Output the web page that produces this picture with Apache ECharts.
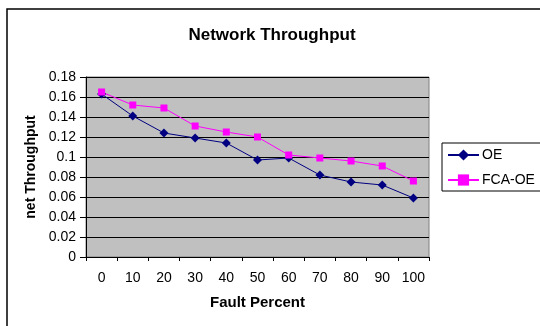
<!DOCTYPE html>
<html>
<head>
<meta charset="utf-8">
<script src="https://cdn.jsdelivr.net/npm/echarts@6/dist/echarts.min.js"></script>
<style>
  html, body { margin: 0; padding: 0; background: #fff; }
  #chart { width: 540px; height: 326px; }
</style>
</head>
<body>
<div id="chart"></div>
<script>
// Fault percentage categories along the x axis
const faultPercent = ['0', '10', '20', '30', '40', '50', '60', '70', '80', '90', '100'];
// Network throughput for each scheme
const oeThroughput = [0.163, 0.141, 0.124, 0.119, 0.114, 0.097, 0.099, 0.082, 0.075, 0.072, 0.059];
const fcaOeThroughput = [0.165, 0.152, 0.149, 0.131, 0.125, 0.120, 0.102, 0.099, 0.096, 0.091, 0.076];
// Y axis range
const yMin = 0, yMax = 0.18, yStep = 0.02;

const font = 'Liberation Sans, Arial, sans-serif';
const chart = echarts.init(document.getElementById('chart'), null, { renderer: 'canvas' });

chart.setOption({
  animation: false,
  backgroundColor: '#ffffff',
  title: {
    text: 'Network Throughput',
    left: 267,
    top: 22,
    textAlign: 'center',
    textStyle: { fontFamily: font, fontSize: 17, fontWeight: 'bold', color: '#000' }
  },
  graphic: [{
    type: 'rect',
    shape: { x: 7, y: 9, width: 700, height: 500 },
    style: { fill: 'none', stroke: '#000', lineWidth: 1.5 },
    silent: true
  }],
  legend: {
    orient: 'vertical',
    left: 442,
    top: 143,
    padding: [5, 6, 4, 5],
    itemGap: 11,
    itemWidth: 31,
    itemHeight: 14,
    borderColor: '#000',
    borderWidth: 1,
    textStyle: { fontFamily: font, fontSize: 14, color: '#000', padding: [0, 0, 0, -2] },
    data: ['OE', 'FCA-OE']
  },
  grid: {
    left: 86, top: 77, width: 343, height: 180,
    show: true,
    backgroundColor: '#C0C0C0',
    borderColor: '#808080',
    borderWidth: 1
  },
  xAxis: {
    type: 'category',
    data: faultPercent,
    boundaryGap: true,
    name: 'Fault Percent',
    nameLocation: 'middle',
    nameGap: 38,
    nameTextStyle: { fontFamily: font, fontSize: 15, fontWeight: 'bold', color: '#000' },
    axisLine: { lineStyle: { color: '#000', width: 1 } },
    axisTick: { show: true, length: 4, lineStyle: { color: '#000' } },
    axisLabel: { fontFamily: font, fontSize: 14, color: '#000', margin: 14 },
    splitLine: { show: false }
  },
  yAxis: {
    type: 'value',
    min: yMin, max: yMax, interval: yStep,
    name: 'net Throughput',
    nameLocation: 'middle',
    nameGap: 46,
    nameTextStyle: { fontFamily: font, fontSize: 14, fontWeight: 'bold', color: '#000' },
    axisLine: { show: true, lineStyle: { color: '#000', width: 1 } },
    axisTick: { show: true, length: 6, lineStyle: { color: '#000' } },
    axisLabel: { fontFamily: font, fontSize: 14, color: '#000', margin: 10 },
    splitLine: { show: true, lineStyle: { color: '#000', width: 1 } }
  },
  series: [
    {
      name: 'OE',
      type: 'line',
      data: oeThroughput,
      symbol: 'diamond',
      symbolSize: 9,
      color: '#000080',
      lineStyle: { color: '#000080', width: 1 },
      itemStyle: { color: '#000080' }
    },
    {
      name: 'FCA-OE',
      type: 'line',
      data: fcaOeThroughput,
      symbol: 'rect',
      symbolSize: 7,
      color: '#FF00FF',
      lineStyle: { color: '#FF00FF', width: 1 },
      itemStyle: { color: '#FF00FF' }
    }
  ]
});
</script>
</body>
</html>
